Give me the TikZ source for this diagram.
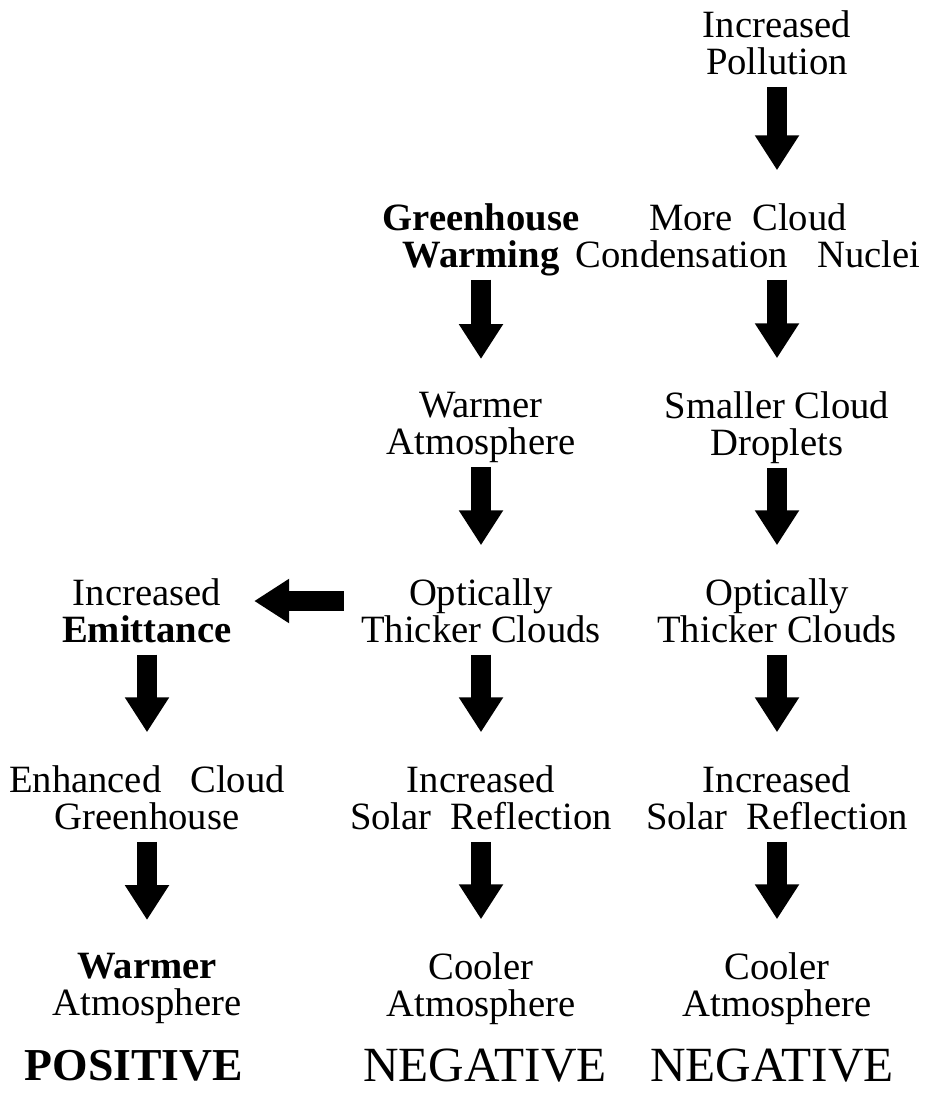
\documentclass[tikz,border=0pt]{standalone}
\usepackage{fontspec}
\setmainfont{Liberation Serif}
\usetikzlibrary{arrows.meta}

\begin{document}
\begin{tikzpicture}[x=0.02cm,y=-0.02cm,
        txt/.style={font=\fontsize{22}{21}\selectfont,align=center,inner sep=0pt,
            execute at begin node=\strut,execute at end node=\strut},
        fat/.style={line width=0.4cm,-{Triangle[width=0.84cm,length=0.7cm]},
            shorten <=0.02cm,shorten >=0.66cm},
        sign/.style={font=\fontsize{28}{28}\selectfont,inner sep=0pt}]
        \useasboundingbox (0,0) rectangle (945,1094);

        % right column
        \node[txt] (poll) at (777,48) {Increased\\Pollution};
        \node[txt] (ccn) at (748,241) {More~~Cloud\\Condensation~~~Nuclei};
        \node[txt] (drop) at (777,429) {Smaller Cloud\\Droplets};
        \node[txt] (optr) at (777,616) {Optically\\Thicker Clouds};
        \node[txt] (solr) at (777,803) {Increased\\Solar~~Reflection};
        \node[txt] (coolr) at (777,990) {Cooler\\Atmosphere};
        \node[sign] (negr) at (772,1066) {NEGATIVE};

        % middle column
        \node[txt] (ghw) at (481,241) {\textbf{Greenhouse}\\\textbf{Warming}};
        \node[txt] (warm) at (481,429) {Warmer\\Atmosphere};
        \node[txt] (optm) at (481,616) {Optically\\Thicker Clouds};
        \node[txt] (solm) at (481,803) {Increased\\Solar~~Reflection};
        \node[txt] (coolm) at (481,990) {Cooler\\Atmosphere};
        \node[sign] (negm) at (485,1066) {NEGATIVE};

        % left column
        \node[txt] (emit) at (147,616) {Increased\\\textbf{Emittance}};
        \node[txt] (enh) at (147,803) {Enhanced~~~Cloud\\Greenhouse};
        \node[txt] (warml) at (147,990) {\textbf{Warmer}\\Atmosphere};
        \node[sign,font=\fontsize{26}{26}\selectfont\bfseries] (pos) at (134,1066) {POSITIVE};

        % arrows
        \draw[fat] (poll.south -| drop) -- (drop |- ccn.north);
        \draw[fat] (ccn.south -| drop) -- (drop.north);
        \draw[fat] (drop) -- (optr);
        \draw[fat] (optr) -- (solr);
        \draw[fat] (solr) -- (coolr);

        \draw[fat] (ghw) -- (warm);
        \draw[fat] (warm) -- (optm);
        \draw[fat] (optm) -- (solm);
        \draw[fat] (solm) -- (coolm);

        \draw[fat,shorten <=0.34cm,shorten >=0.44cm] ([yshift=0.3cm]optm.west) -- ([yshift=0.3cm]optm.west -| emit.east);
        \draw[fat] (emit) -- (enh);
        \draw[fat] (enh) -- (warml);
\end{tikzpicture}
\end{document}
